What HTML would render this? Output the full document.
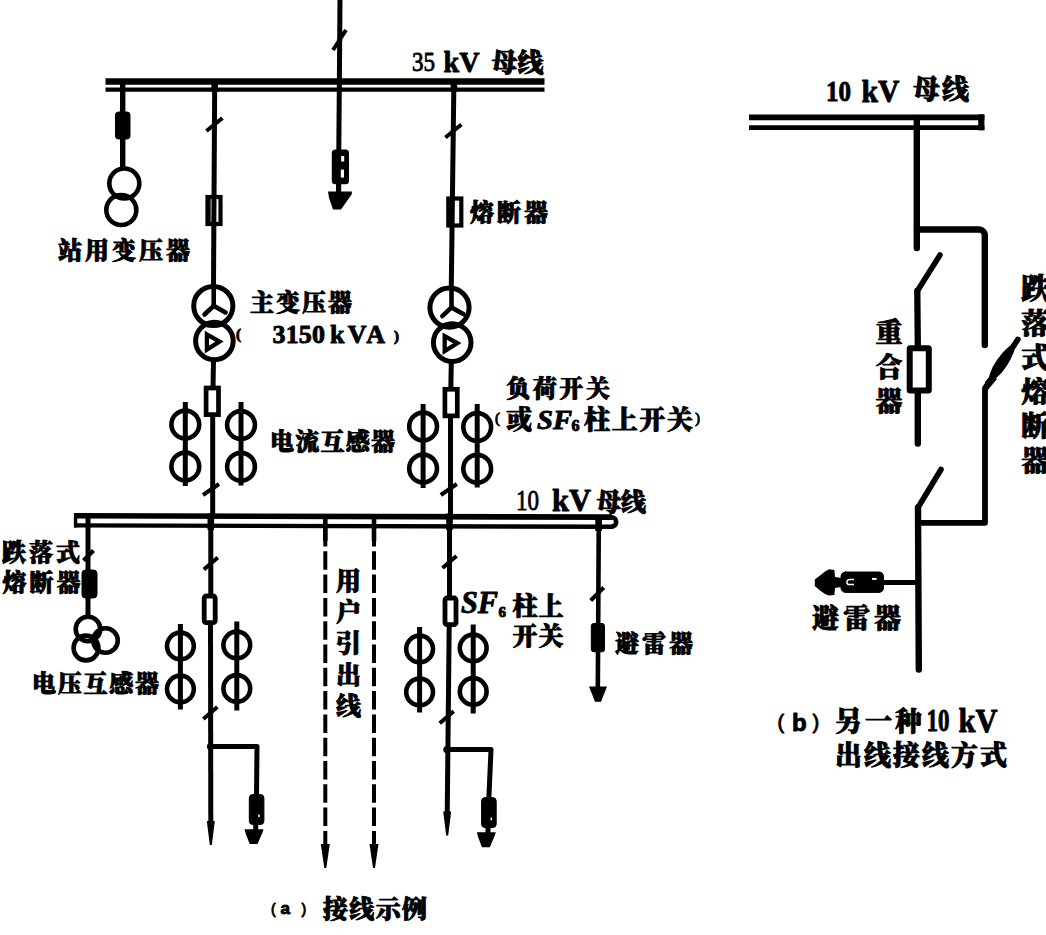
<!DOCTYPE html>
<html lang="zh-CN">
<head>
<meta charset="utf-8">
<title>35kV 变电所接线示例</title>
<style>
html,body{margin:0;padding:0;background:#fff;}
body{width:1046px;height:935px;overflow:hidden;}
svg{display:block;}
svg text{font-family:"Liberation Serif","Noto Serif CJK SC",serif;fill:#000;font-weight:900;}
.sans{font-family:"Liberation Sans","Noto Sans CJK SC",sans-serif;}
</style>
</head>
<body>
<svg width="1046" height="935" viewBox="0 0 1046 935">
<rect x="0" y="0" width="1046" height="935" fill="#fff"/>
<g stroke="#000" fill="none">

<g id="diagram-a">
<line x1="105.5" y1="81.5" x2="544.5" y2="81.5" stroke-width="6.4" />
<line x1="105.5" y1="89.6" x2="544.5" y2="89.6" stroke-width="4.4" />
<line x1="340" y1="0" x2="338.8" y2="151" stroke-width="5.0" />
<line x1="333.0" y1="50" x2="346.0" y2="30" stroke-width="4" />
<rect x="332.8" y="150.4" width="15.2" height="32.8" stroke-width="2" fill="#000" rx="2.5"/>
<rect x="341.2" y="156" width="3" height="5.6" fill="#fff" stroke="none"/>
<rect x="340.8" y="169.6" width="3.2" height="8" fill="#fff" stroke="none"/>
<line x1="338.6" y1="183" x2="338.6" y2="195" stroke-width="5.2" />
<polygon points="328,191.5 352,191.5 351.6,194.5 341,209.6 333,209.6 329,198" fill="#000" stroke="none"/>
<line x1="122.7" y1="82" x2="122.7" y2="168" stroke-width="5.4" />
<rect x="115.5" y="112" width="14.5" height="27" stroke-width="1" fill="#000" rx="3"/>
<circle cx="124.3" cy="183.5" r="15" stroke-width="4.6"/>
<circle cx="121.3" cy="210" r="15" stroke-width="4.6"/>
<line x1="214.7" y1="82" x2="213.5" y2="286" stroke-width="5.0" />
<line x1="214.7" y1="80" x2="214.7" y2="92" stroke-width="6.6" />
<line x1="206.46" y1="131.0" x2="222.46" y2="118.0" stroke-width="4" />
<rect x="207.5" y="197" width="13" height="27" stroke-width="4.2" fill="none" rx="0"/>
<line x1="209.9" y1="197" x2="209.9" y2="224" stroke-width="1.6" />
<circle cx="213.3" cy="306" r="19.6" stroke-width="5"/>
<circle cx="214.4" cy="341" r="18.8" stroke-width="5"/>
<line x1="213.7" y1="286" x2="213.7" y2="307" stroke-width="4.6" />
<line x1="213.7" y1="305.8" x2="204.5" y2="314.5" stroke-width="4.6" stroke-linecap="round"/>
<line x1="213.7" y1="305.8" x2="225.5" y2="312.5" stroke-width="4.6" stroke-linecap="round"/>
<polygon points="206.9,334.5 206.9,349.5 219.5,341.6" stroke-width="4.3" stroke-linejoin="miter"/>
<line x1="213.5" y1="360" x2="213.0" y2="388" stroke-width="5.0" />
<rect x="206.1" y="388.0" width="12.4" height="26.6" stroke-width="4.7" fill="none" rx="0"/>
<line x1="212.7" y1="416" x2="212.7" y2="518" stroke-width="5.0" />
<line x1="203.0" y1="495.0" x2="219.0" y2="484.0" stroke-width="4" />
<circle cx="185.3" cy="424.5" r="13.9" stroke-width="4.6"/>
<circle cx="185.3" cy="466.5" r="13.9" stroke-width="4.6"/>
<line x1="185.3" y1="402" x2="185.3" y2="486" stroke-width="5" />
<circle cx="241.0" cy="425" r="13.9" stroke-width="4.6"/>
<circle cx="241.0" cy="466.8" r="13.9" stroke-width="4.6"/>
<line x1="241.0" y1="402" x2="241.0" y2="485.5" stroke-width="5" />
<line x1="453.90000000000003" y1="82" x2="451.3" y2="286" stroke-width="5.0" />
<line x1="453.90000000000003" y1="80" x2="453.90000000000003" y2="92" stroke-width="6.6" />
<line x1="445.38" y1="137.5" x2="461.38" y2="124.5" stroke-width="4" />
<rect x="448.3" y="198.5" width="13" height="27" stroke-width="4.2" fill="none" rx="0"/>
<line x1="450.7" y1="198.5" x2="450.7" y2="225.5" stroke-width="1.6" />
<circle cx="449.5" cy="307.6" r="19.6" stroke-width="5"/>
<circle cx="452.2" cy="342.6" r="18.8" stroke-width="5"/>
<line x1="451.5" y1="287.6" x2="451.5" y2="308.6" stroke-width="4.6" />
<line x1="451.5" y1="307.40000000000003" x2="442.3" y2="316.1" stroke-width="4.6" stroke-linecap="round"/>
<line x1="451.5" y1="307.40000000000003" x2="463.3" y2="314.1" stroke-width="4.6" stroke-linecap="round"/>
<polygon points="444.7,336.1 444.7,351.1 457.3,343.20000000000005" stroke-width="4.3" stroke-linejoin="miter"/>
<line x1="451.3" y1="361.6" x2="450.8" y2="389.6" stroke-width="5.0" />
<rect x="444.90000000000003" y="389.28" width="12.4" height="26.6" stroke-width="4.7" fill="none" rx="0"/>
<line x1="450.5" y1="416" x2="450.5" y2="518" stroke-width="5.0" />
<line x1="440.8" y1="495.0" x2="456.8" y2="484.0" stroke-width="4" />
<circle cx="423.1" cy="426.5" r="13.9" stroke-width="4.6"/>
<circle cx="423.1" cy="468.5" r="13.9" stroke-width="4.6"/>
<line x1="423.1" y1="404" x2="423.1" y2="488" stroke-width="5" />
<circle cx="477.2" cy="427" r="13.9" stroke-width="4.6"/>
<circle cx="477.2" cy="468.8" r="13.9" stroke-width="4.6"/>
<line x1="477.2" y1="404" x2="477.2" y2="487.5" stroke-width="5" />
<g transform="rotate(0.14 74 520)">
<line x1="74" y1="515.8" x2="612" y2="515.8" stroke-width="5.6" />
<line x1="74" y1="525.4" x2="612" y2="525.4" stroke-width="4.4" />
<line x1="75.6" y1="513" x2="75.6" y2="527.6" stroke-width="3.4" />
<path d="M611.5,515.9 a4.7,4.7 0 0 1 0,9.4" stroke-width="4.6"/>
</g>
<line x1="88" y1="517" x2="88" y2="617" stroke-width="5.0" />
<line x1="83.5" y1="560.5" x2="93.5" y2="550.5" stroke-width="4" />
<rect x="82" y="570" width="15" height="28" stroke-width="1" fill="#000" rx="3.5"/>
<circle cx="88" cy="629" r="12.3" stroke-width="4.6"/>
<circle cx="105.5" cy="640.5" r="12.3" stroke-width="4.6"/>
<circle cx="86" cy="648" r="12.4" stroke-width="4.6"/>
<line x1="210.8" y1="517" x2="210.8" y2="596" stroke-width="5.0" />
<line x1="210.8" y1="513.5" x2="210.8" y2="530" stroke-width="6.6" />
<line x1="210.5" y1="623" x2="210.8" y2="825" stroke-width="5.0" />
<polygon points="206.8,821 214.8,821 211.8,845 209.8,845" fill="#000" stroke="none"/>
<line x1="203.8" y1="569.5" x2="217.8" y2="557.5" stroke-width="4" />
<rect x="204.20000000000002" y="596" width="11" height="26.7" stroke-width="4.8" fill="none" rx="2"/>
<circle cx="180.4" cy="646" r="13.4" stroke-width="4.6"/>
<circle cx="180.4" cy="689" r="13.4" stroke-width="4.6"/>
<line x1="180.4" y1="624" x2="180.4" y2="709.5" stroke-width="5" />
<circle cx="236.8" cy="645" r="13.4" stroke-width="4.6"/>
<circle cx="236.8" cy="688.5" r="13.4" stroke-width="4.6"/>
<line x1="236.8" y1="621.5" x2="236.8" y2="710.5" stroke-width="5" />
<line x1="203.3" y1="719" x2="217.3" y2="707" stroke-width="4" />
<polyline points="210.8,746.5 257,746.5 256.5,796.5" stroke-width="5.0" stroke-linejoin="round"/>
<circle cx="210.5" cy="746.5" r="3.6" fill="#000" stroke="none"/>
<rect x="249.3" y="794.5" width="14.6" height="30" stroke-width="1" fill="#000" rx="3.5"/>
<rect x="258.2" y="814.5" width="1.5" height="2.6" fill="#fff" stroke="none"/>
<line x1="255.7" y1="823.5" x2="255.7" y2="832.5" stroke-width="5.0" />
<polygon points="244.5,829.2 263.5,829.2 262.5,832.5 257.5,844.1 249.7,844.1 246.0,834.5" fill="#000" stroke="none"/>
<line x1="449.5" y1="517" x2="449.5" y2="598" stroke-width="5.0" />
<line x1="449.5" y1="513.5" x2="449.5" y2="530" stroke-width="6.6" />
<line x1="449.2" y1="625" x2="447.2" y2="815.5" stroke-width="5.0" />
<polygon points="443.2,811.5 451.2,811.5 448.2,835.5 446.2,835.5" fill="#000" stroke="none"/>
<line x1="442.5" y1="568" x2="456.5" y2="556" stroke-width="4" />
<rect x="445.0" y="598" width="11" height="26.7" stroke-width="4.8" fill="none" rx="2"/>
<circle cx="419.6" cy="649" r="13.4" stroke-width="4.6"/>
<circle cx="419.6" cy="692" r="13.4" stroke-width="4.6"/>
<line x1="419.6" y1="627" x2="419.6" y2="712.5" stroke-width="5" />
<circle cx="473.2" cy="648" r="13.4" stroke-width="4.6"/>
<circle cx="473.2" cy="691.5" r="13.4" stroke-width="4.6"/>
<line x1="473.2" y1="624.5" x2="473.2" y2="713.5" stroke-width="5" />
<line x1="439.7" y1="723.3" x2="453.7" y2="711.3" stroke-width="4" />
<polyline points="447.2,749.6 491,749.6 488.8,799.6" stroke-width="5.0" stroke-linejoin="round"/>
<circle cx="446.9" cy="749.6" r="3.6" fill="#000" stroke="none"/>
<rect x="481.6" y="797.6" width="14.6" height="30" stroke-width="1" fill="#000" rx="3.5"/>
<rect x="490.5" y="817.6" width="1.5" height="2.6" fill="#fff" stroke="none"/>
<line x1="488.0" y1="826.6" x2="488.0" y2="835.6" stroke-width="5.0" />
<polygon points="476.8,832.3000000000001 495.8,832.3000000000001 494.8,835.6 489.8,847.2 482.0,847.2 478.3,837.6" fill="#000" stroke="none"/>
<line x1="325.3" y1="516" x2="325.3" y2="541" stroke-width="4.6" />
<line x1="325.3" y1="528" x2="325.3" y2="850" stroke-width="4" stroke-dasharray="18.5 4.8"/>
<polygon points="320.8,844 329.8,844 326.3,868 324.3,868" fill="#000" stroke="none"/>
<line x1="374" y1="516" x2="374" y2="541" stroke-width="4.6" />
<line x1="374" y1="528" x2="374" y2="850" stroke-width="4" stroke-dasharray="18.5 4.8"/>
<polygon points="369.5,844 378.5,844 375,868 373,868" fill="#000" stroke="none"/>
<line x1="598.8" y1="517" x2="597.8" y2="692" stroke-width="4.6" />
<line x1="598.6" y1="515" x2="598.6" y2="531" stroke-width="6.6" />
<line x1="590.7" y1="600.5" x2="603.7" y2="587.5" stroke-width="4" />
<rect x="591.3" y="623.5" width="13.2" height="28.3" stroke-width="1" fill="#000" rx="2.5"/>
<polygon points="589,686.5 607,686.5 601,701.8 595,701.8" fill="#000" stroke="none"/>
</g>
<g id="diagram-b" stroke-linecap="round" stroke-linejoin="round">
<line x1="749" y1="117.3" x2="984.4" y2="117.3" stroke-width="5.8" stroke-linecap="butt"/>
<line x1="749" y1="127.7" x2="984.4" y2="127.7" stroke-width="4.8" stroke-linecap="butt"/>
<line x1="981.3" y1="114.4" x2="981.3" y2="130.4" stroke-width="6.2" stroke-linecap="butt"/>
<line x1="916.8" y1="118" x2="916.8" y2="248" stroke-width="6.4" />
<path d="M917,229.5 H979.2 a5.6,5.6 0 0 1 5.6,5.6 V345" stroke-width="6.4"/>
<polyline points="940,255 917.3,291" stroke-width="5.6" />
<line x1="917.3" y1="291" x2="917.8" y2="345" stroke-width="6.3" />
<rect x="909.7" y="348.3" width="19.1" height="42.2" stroke-width="6" fill="none" rx="0.5"/>
<line x1="917.8" y1="393" x2="917.8" y2="443.5" stroke-width="6.4" />
<polyline points="1017.8,339.5 985,388 985,522.8 918,522.8" stroke-width="5.800000000000001" />
<ellipse cx="1001.8" cy="363" rx="21" ry="5.7" transform="rotate(124.1 1001.8 363)" fill="#000" stroke="none"/>
<polygon points="985,382 992,374 997,379 987,391" fill="#000" stroke="none"/>
<polyline points="941,469.5 918,507.5" stroke-width="5.6" />
<line x1="918" y1="507.5" x2="918.8" y2="669.5" stroke-width="6.4" />
<line x1="918" y1="582.6" x2="884" y2="582.6" stroke-width="5" stroke-linecap="butt"/>
<rect x="841" y="572" width="42.5" height="20.4" stroke-width="1" fill="#000" rx="4.5"/>
<polygon points="814.8,579.5 814.8,586 820,590.5 825,594 829,595.6 834.4,595 835,588 841.5,587 841.5,578 835,577 834.4,570 829,569.2 825,571.5 820,575.5" fill="#000" stroke="none"/>
<path d="M854,579.4 H849.5 a2.6,2.6 0 0 0 0,5.2 H854" stroke="#fff" stroke-width="1.5" fill="none" stroke-linecap="butt"/>
<rect x="872" y="577.9" width="4.6" height="2" fill="#fff" stroke="none"/>
</g>
<g id="labels" stroke="#000" stroke-width="0.9" stroke-linejoin="round" fill="#000">
<text x="412" y="71" font-size="26"><tspan font-weight="400" font-size="28" textLength="23" lengthAdjust="spacingAndGlyphs">35</tspan><tspan x="443.5" y="72" font-size="30" textLength="36" lengthAdjust="spacingAndGlyphs">kV</tspan><tspan x="491.5" y="71.5" textLength="52" lengthAdjust="spacing">母线</tspan></text>
<text x="58" y="258.5" font-size="24" textLength="132" lengthAdjust="spacing" >站用变压器</text>
<text x="470" y="221" font-size="24" textLength="78" lengthAdjust="spacing" >熔断器</text>
<text x="250" y="311" font-size="24" textLength="102" lengthAdjust="spacing" >主变压器</text>
<text x="236" y="339" font-size="15" font-weight="400">(</text>
<text x="272.5" y="342.8" font-size="26" textLength="52.5" lengthAdjust="spacing" >3150</text>
<text x="330" y="342.8" font-size="26" textLength="55" lengthAdjust="spacing" >kVA</text>
<text x="394" y="341" font-size="15" font-weight="400">)</text>
<text x="270" y="450" font-size="24" textLength="125" lengthAdjust="spacing" >电流互感器</text>
<text x="506" y="397" font-size="24" textLength="104" lengthAdjust="spacing" >负荷开关</text>
<text x="495" y="429" font-size="26"><tspan font-size="15" font-weight="400" dy="-6">(</tspan><tspan dy="6" x="506">或</tspan><tspan x="537" font-style="italic" font-size="27" textLength="35" lengthAdjust="spacingAndGlyphs">SF</tspan><tspan x="571.5" font-size="16" dy="2">6</tspan><tspan dy="-2" x="584" textLength="109" lengthAdjust="spacing">柱上开关</tspan><tspan font-size="15" font-weight="400" dy="-6" x="695">)</tspan></text>
<text x="516" y="510" font-size="25"><tspan font-weight="400" font-size="29" textLength="23" lengthAdjust="spacingAndGlyphs">10</tspan><tspan x="552" y="511" font-size="31" textLength="39" lengthAdjust="spacingAndGlyphs">kV</tspan><tspan x="596.5" y="510.5" textLength="49.5" lengthAdjust="spacing">母线</tspan></text>
<text x="2" y="561" font-size="24" textLength="78" lengthAdjust="spacing" >跌落式</text>
<text x="2.5" y="590.5" font-size="24" textLength="78" lengthAdjust="spacing" >熔断器</text>
<text x="32" y="692" font-size="24" textLength="127" lengthAdjust="spacing" >电压互感器</text>
<text x="336" y="589.5" font-size="25" >用</text>
<text x="336" y="620.9" font-size="25" >户</text>
<text x="336" y="652.3" font-size="25" >引</text>
<text x="336" y="683.7" font-size="25" >出</text>
<text x="336" y="715.1" font-size="25" >线</text>
<text x="461" y="613" font-size="25"><tspan font-style="italic" font-size="31" textLength="37" lengthAdjust="spacingAndGlyphs">SF</tspan><tspan x="498.5" font-size="15" dy="4">6</tspan><tspan dy="-2" x="512.5" textLength="51" lengthAdjust="spacing">柱上</tspan></text>
<text x="512.5" y="645" font-size="25" textLength="51" lengthAdjust="spacing" >开关</text>
<text x="615" y="652" font-size="24" textLength="78" lengthAdjust="spacing" >避雷器</text>
<text class="sans" x="271" y="913.5" font-size="17"><tspan font-weight="400" font-size="14">(</tspan><tspan x="280.5" y="914">a</tspan><tspan x="301.5" y="913.5" font-weight="400" font-size="14">)</tspan></text>
<text x="323" y="918" font-size="25" textLength="104" lengthAdjust="spacing" >接线示例</text>
<text x="826" y="101" font-size="27"><tspan font-size="30" textLength="25" lengthAdjust="spacingAndGlyphs">10</tspan><tspan x="861.5" y="101.5" font-size="32" textLength="38" lengthAdjust="spacingAndGlyphs">kV</tspan><tspan x="913" y="98.5" textLength="56" lengthAdjust="spacing">母线</tspan></text>
<text x="875.5" y="342.0" font-size="27" >重</text>
<text x="875.5" y="376.7" font-size="27" >合</text>
<text x="875.5" y="411.4" font-size="27" >器</text>
<text x="1021.3" y="299.3" font-size="28" >跌</text>
<text x="1021.3" y="333.55" font-size="28" >落</text>
<text x="1021.3" y="367.8" font-size="28" >式</text>
<text x="1021.3" y="402.05" font-size="28" >熔</text>
<text x="1021.3" y="436.3" font-size="28" >断</text>
<text x="1021.3" y="470.55" font-size="28" >器</text>
<text x="812" y="628" font-size="27" textLength="89" lengthAdjust="spacing" >避雷器</text>
<text class="sans" x="777.5" y="729" font-size="24"><tspan font-weight="400" font-size="20">(</tspan><tspan x="792" y="731">b</tspan><tspan x="812.5" y="729" font-weight="400" font-size="20">)</tspan></text>
<text x="835" y="731" font-size="27"><tspan textLength="87" lengthAdjust="spacing">另一种</tspan><tspan x="926.5" font-size="31" textLength="23" lengthAdjust="spacingAndGlyphs">10</tspan><tspan x="958.5" y="732" font-size="33" textLength="39" lengthAdjust="spacingAndGlyphs">kV</tspan></text>
<text x="835" y="765" font-size="27" textLength="172" lengthAdjust="spacing" >出线接线方式</text>
</g>
</g>
</svg>
</body>
</html>
